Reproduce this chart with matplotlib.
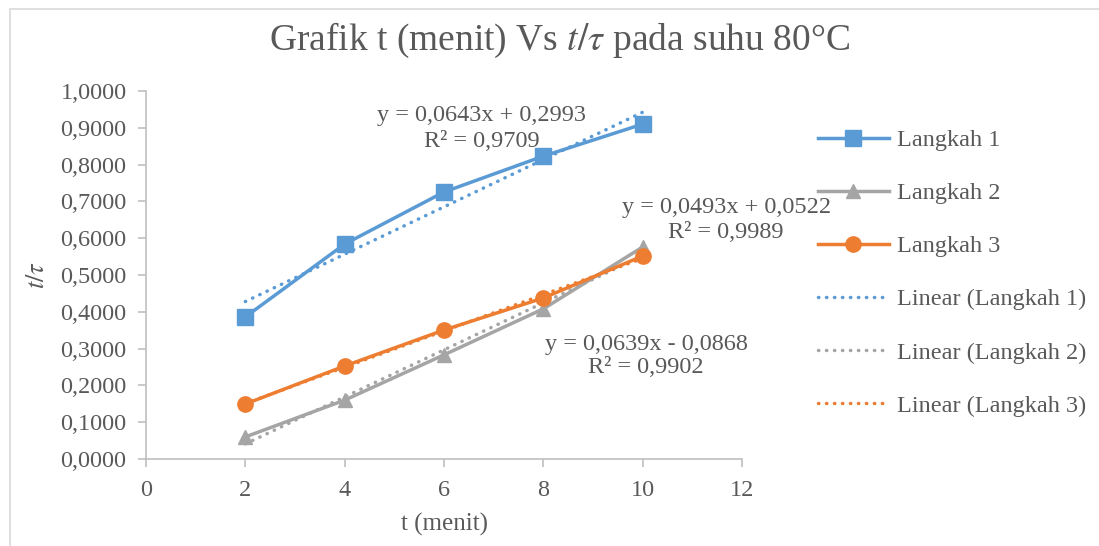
import numpy as np
import matplotlib.pyplot as plt
from matplotlib.patches import Rectangle
from matplotlib.ticker import FuncFormatter

plt.rcParams['font.family'] = ['Liberation Serif', 'DejaVu Serif']
plt.rcParams['mathtext.fontset'] = 'stix'

# data
t_menit = [2, 4, 6, 8, 10]
langkah1 = [0.386, 0.584, 0.7255, 0.823, 0.910]
langkah2 = [0.060, 0.160, 0.283, 0.408, 0.576]
langkah3 = [0.1495, 0.2527, 0.3505, 0.4375, 0.5516]

# trendline coefficients printed on the chart
slopes = [0.0643, 0.0639, 0.0493]
intercepts = [0.2993, -0.0868, 0.0522]
r2 = [0.9709, 0.9902, 0.9989]

series = [langkah1, langkah2, langkah3]
names = ["Langkah 1", "Langkah 2", "Langkah 3"]
colors = ["#5B9BD5", "#A5A5A5", "#ED7D31"]
markers = ["s", "^", "o"]
msizes = [11, 10, 11]

txt = "#595959"
fs = 17.5

fig = plt.figure(figsize=(10.99, 5.46), dpi=100)
fig.patches.append(Rectangle((10 / 1099, -0.1), 1.2, (546 - 9) / 546 + 0.1,
                             transform=fig.transFigure, fill=False,
                             edgecolor="#D9D9D9", linewidth=1.2))
ax = fig.add_axes([146 / 1099, 1 - 459 / 546, (742 - 146) / 1099, (459 - 91) / 546])

handles = []
for ys, nm, c, m, ms in zip(series, names, colors, markers, msizes):
    h, = ax.plot(t_menit, ys, color=c, marker=m, markersize=ms, linewidth=2.5,
                 label=nm, zorder=3)
    handles.append(h)

xt = np.array([t_menit[0], t_menit[-1]])
for a, b, nm, c in zip(slopes, intercepts, names, colors):
    h, = ax.plot(xt, a * xt + b, color=c, linewidth=2.5, linestyle=(0, (0.1, 2.2)),
                 dash_capstyle="round", label="Linear (" + nm + ")", zorder=2)
    handles.append(h)

def eq_text(a, b, r):
    sign = "+" if b >= 0 else "-"
    s = "y = {:.4f}x {} {:.4f}".format(a, sign, abs(b)).replace(".", ",")
    return s + "\n" + "R² = {:.4f}".format(r).replace(".", ",")

# equation labels (Langkah 1, 2, 3)
ax.text(6.76, 0.898, eq_text(slopes[0], intercepts[0], r2[0]), ha="center", va="center",
        fontsize=fs, color=txt, linespacing=1.28, clip_on=False)
ax.text(10.07, 0.28, eq_text(slopes[1], intercepts[1], r2[1]), ha="center", va="center",
        fontsize=fs, color=txt, linespacing=1.12, clip_on=False)
ax.text(11.68, 0.65, eq_text(slopes[2], intercepts[2], r2[2]), ha="center", va="center",
        fontsize=fs, color=txt, linespacing=1.28, clip_on=False)

ax.set_xlim(0, 12)
ax.set_ylim(0, 1.0)
ax.set_xticks(range(0, 13, 2))
ax.set_yticks(np.arange(0, 1.01, 0.1))
ax.yaxis.set_major_formatter(FuncFormatter(lambda v, p: "{:.4f}".format(v).replace(".", ",")))

for s in ["top", "right"]:
    ax.spines[s].set_visible(False)
for s in ["left", "bottom"]:
    ax.spines[s].set_color("#BFBFBF")
    ax.spines[s].set_linewidth(1.2)
ax.tick_params(axis="both", colors="#BFBFBF", labelcolor=txt, labelsize=fs,
               length=6, width=1.2, direction="out")
ax.tick_params(axis="x", pad=9)
ax.tick_params(axis="y", pad=8)

ax.set_xlabel("t (menit)", fontsize=18, color=txt, labelpad=9)
ax.set_ylabel(r"$t/\tau$", fontsize=19, color=txt, labelpad=8)
fig.text(560 / 1099, 1 - 40 / 546, r"Grafik t (menit) Vs $t/\tau$ pada suhu 80°C",
         ha="center", va="center", fontsize=27, color=txt)

leg = fig.legend(handles=handles, loc="upper left", bbox_to_anchor=(801 / 1099, 1 - 112 / 546),
                 frameon=False, fontsize=fs, handlelength=2.9, labelspacing=1.28,
                 handletextpad=0.35, borderpad=0.2)
for t in leg.get_texts():
    t.set_color(txt)

fig.savefig("out.png", dpi=100)
